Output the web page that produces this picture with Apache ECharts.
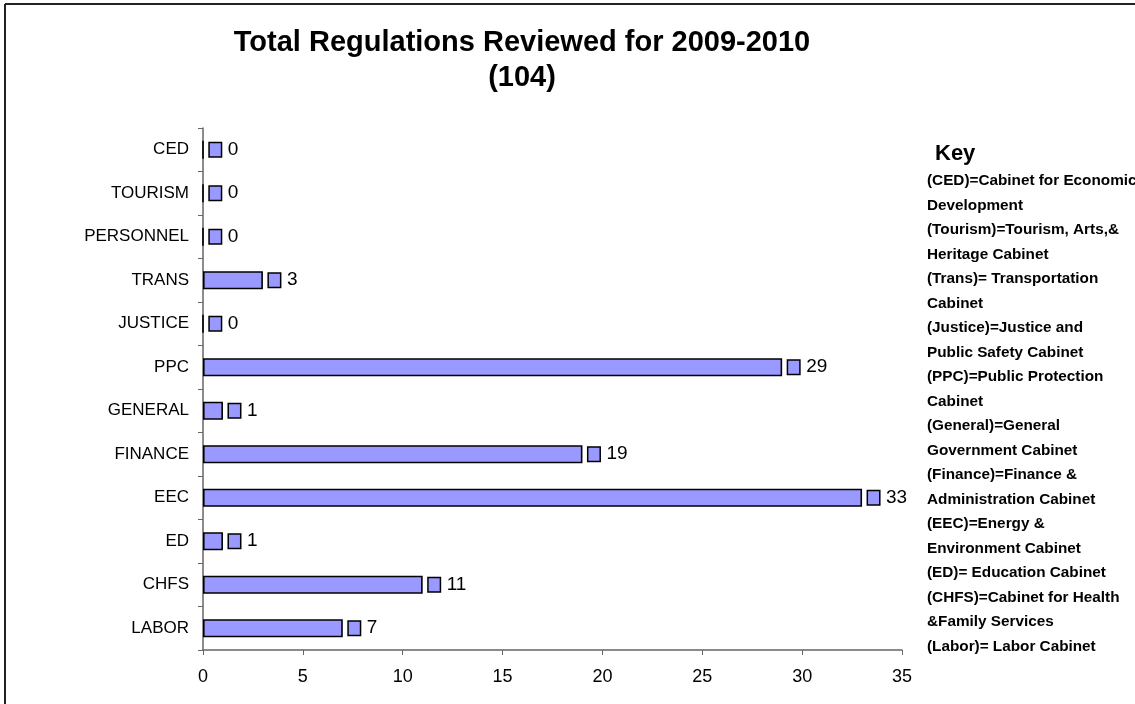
<!DOCTYPE html>
<html>
<head>
<meta charset="utf-8">
<script src="https://cdn.jsdelivr.net/npm/echarts@6/dist/echarts.min.js"></script>
<style>html,body{margin:0;padding:0;background:#fff;}#c{width:1135px;height:704px;}</style>
</head>
<body>
<div id="c"></div>
<script>
const categories = ['CED','TOURISM','PERSONNEL','TRANS','JUSTICE','PPC','GENERAL','FINANCE','EEC','ED','CHFS','LABOR'];
const values = [0,0,0,3,0,29,1,19,33,1,11,7];
const titleText = 'Total Regulations Reviewed for 2009-2010\n(104)';
const keyTitle = 'Key';
const keyLines = [
  '(CED)=Cabinet for Economic','Development',
  '(Tourism)=Tourism, Arts,&','Heritage Cabinet',
  '(Trans)= Transportation','Cabinet',
  '(Justice)=Justice and','Public Safety Cabinet',
  '(PPC)=Public Protection','Cabinet',
  '(General)=General','Government Cabinet',
  '(Finance)=Finance &','Administration Cabinet',
  '(EEC)=Energy &','Environment Cabinet',
  '(ED)= Education Cabinet',
  '(CHFS)=Cabinet for Health','&Family Services',
  '(Labor)= Labor Cabinet'
];
const xTicks = {min: 0, max: 35, interval: 5};

const chart = echarts.init(document.getElementById('c'), null, {renderer: 'canvas'});
const font = 'Arial, "Liberation Sans", sans-serif';
chart.setOption({
  animation: false,
  backgroundColor: '#fff',
  textStyle: {fontFamily: font},
  title: [
    {text: titleText, left: 517, top: 20, textAlign: 'center',
     textStyle: {fontSize: 29, fontWeight: 'bold', color: '#000', lineHeight: 35, fontFamily: font}},
    {text: keyTitle, left: 930, top: 138,
     textStyle: {fontSize: 22, fontWeight: 'bold', color: '#000', fontFamily: font}},
    {text: keyLines.join('\n'), left: 922, top: 164,
     textStyle: {fontSize: 15.3, fontWeight: 'bold', color: '#000', lineHeight: 24.5, fontFamily: font}}
  ],
  grid: {left: 203, right: 233, top: 128, bottom: 54, containLabel: false},
  xAxis: {
    type: 'value', min: xTicks.min, max: xTicks.max, interval: xTicks.interval,
    splitLine: {show: false},
    axisLine: {show: true, lineStyle: {color: '#666', width: 1.5}},
    axisTick: {show: true, length: 5, lineStyle: {color: '#666'}},
    axisLabel: {fontSize: 18, color: '#000', margin: 18, fontFamily: font}
  },
  yAxis: {
    type: 'category', data: categories, inverse: true,
    axisLine: {show: true, lineStyle: {color: '#666', width: 1.5}},
    axisTick: {show: true, length: 5, alignWithLabel: false, lineStyle: {color: '#666'}},
    axisLabel: {fontSize: 17, color: '#000', margin: 14, fontFamily: font}
  },
  series: [{
    type: 'bar', data: values, barWidth: 18,
    itemStyle: {color: '#9999FF', borderColor: '#000', borderWidth: 1.6},
    label: {
      show: true, position: 'right', distance: 6,
      formatter: p => '{sq|}{v|' + p.value + '}',
      rich: {
        sq: {width: 11, height: 13, backgroundColor: '#9999FF', borderColor: '#000', borderWidth: 1.5},
        v: {fontSize: 19, color: '#000', padding: [0, 0, 0, 7], fontFamily: font}
      }
    }
  }],
  graphic: [
    {type: 'line', shape: {x1: 5, y1: 4, x2: 1135, y2: 4}, style: {stroke: '#222', lineWidth: 2}},
    {type: 'line', shape: {x1: 5, y1: 4, x2: 5, y2: 704}, style: {stroke: '#222', lineWidth: 2}}
  ]
});
</script>
</body>
</html>
